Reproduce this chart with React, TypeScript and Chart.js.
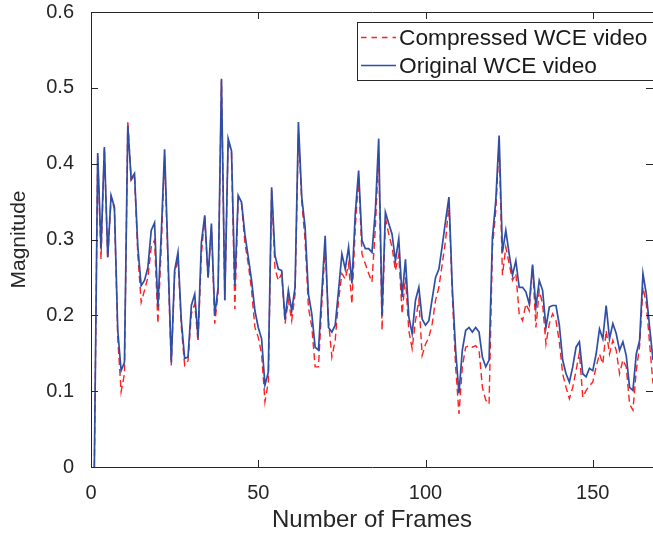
import React, { useEffect, useRef } from "react";
import { Chart, registerables } from "chart.js";

Chart.register(...registerables);

const frames: number[] = [];
for (let f = 1; f <= 168; f++) frames.push(f);

const original: number[] = [
  0, 0.414, 0.288, 0.422, 0.277, 0.358, 0.343, 0.18, 0.127, 0.138,
  0.45, 0.38, 0.387, 0.29, 0.239, 0.246, 0.263, 0.312, 0.322, 0.211,
  0.307, 0.419, 0.28, 0.138, 0.259, 0.283, 0.193, 0.143, 0.145, 0.213,
  0.228, 0.171, 0.296, 0.332, 0.25, 0.321, 0.2, 0.237, 0.512, 0.22,
  0.433, 0.417, 0.239, 0.358, 0.349, 0.307, 0.277, 0.246, 0.206, 0.184,
  0.169, 0.108, 0.125, 0.369, 0.279, 0.261, 0.259, 0.195, 0.233, 0.206,
  0.237, 0.455, 0.356, 0.316, 0.228, 0.202, 0.158, 0.154, 0.23, 0.305,
  0.184, 0.178, 0.187, 0.233, 0.281, 0.261, 0.29, 0.242, 0.334, 0.391,
  0.299, 0.288, 0.288, 0.283, 0.338, 0.433, 0.2, 0.336, 0.321, 0.307,
  0.272, 0.301, 0.224, 0.274, 0.198, 0.176, 0.22, 0.237, 0.195, 0.187,
  0.193, 0.222, 0.25, 0.261, 0.292, 0.325, 0.356, 0.237, 0.154, 0.097,
  0.154, 0.18, 0.184, 0.178, 0.184, 0.178, 0.145, 0.132, 0.141, 0.303,
  0.351, 0.437, 0.283, 0.312, 0.281, 0.253, 0.272, 0.237, 0.237, 0.231,
  0.215, 0.267, 0.211, 0.246, 0.233, 0.184, 0.211, 0.213, 0.213, 0.187,
  0.141, 0.123, 0.112, 0.132, 0.158, 0.165, 0.123, 0.119, 0.13, 0.127,
  0.149, 0.182, 0.169, 0.213, 0.169, 0.189, 0.176, 0.154, 0.165, 0.147,
  0.105, 0.101, 0.149, 0.167, 0.255, 0.228, 0.184, 0.141,
];

const compressed: number[] = [
  0, 0.41, 0.274, 0.42, 0.274, 0.355, 0.34, 0.17, 0.099, 0.123,
  0.457, 0.378, 0.385, 0.28, 0.217, 0.233, 0.25, 0.29, 0.299, 0.189,
  0.29, 0.41, 0.27, 0.134, 0.255, 0.275, 0.185, 0.134, 0.14, 0.202,
  0.215, 0.165, 0.281, 0.33, 0.248, 0.316, 0.189, 0.23, 0.51, 0.22,
  0.43, 0.415, 0.208, 0.355, 0.347, 0.296, 0.268, 0.233, 0.184, 0.171,
  0.149, 0.086, 0.112, 0.365, 0.261, 0.246, 0.255, 0.189, 0.22, 0.193,
  0.228, 0.439, 0.35, 0.299, 0.21, 0.185, 0.132, 0.132, 0.215, 0.29,
  0.193, 0.145, 0.167, 0.22, 0.255, 0.248, 0.268, 0.215, 0.316, 0.382,
  0.281, 0.268, 0.255, 0.244, 0.316, 0.413, 0.18, 0.329, 0.307, 0.29,
  0.259, 0.28, 0.202, 0.25, 0.18, 0.156, 0.193, 0.22, 0.147, 0.162,
  0.171, 0.189, 0.22, 0.237, 0.268, 0.299, 0.347, 0.228, 0.132, 0.07,
  0.132, 0.158, 0.16, 0.158, 0.16, 0.154, 0.105, 0.088, 0.083, 0.29,
  0.338, 0.426, 0.253, 0.29, 0.268, 0.246, 0.255, 0.202, 0.193, 0.215,
  0.206, 0.265, 0.184, 0.233, 0.215, 0.162, 0.189, 0.202, 0.193, 0.165,
  0.123, 0.105, 0.09, 0.105, 0.127, 0.151, 0.092, 0.101, 0.107, 0.112,
  0.132, 0.149, 0.136, 0.18, 0.149, 0.167, 0.154, 0.123, 0.141, 0.132,
  0.083, 0.075, 0.127, 0.16, 0.237, 0.215, 0.162, 0.11,
];

const xTicks: number[] = [0, 50, 100, 150];
const yTicks: number[] = [0, 0.1, 0.2, 0.3, 0.4, 0.5, 0.6];
const seriesLabels: string[] = ["Compressed WCE video", "Original WCE video"];

const FONT = "'Liberation Sans', Arial, Helvetica, sans-serif";
const AXIS = "#262626";
const RED = "#ff2020";
const BLUE = "#2f4ea6";
const seriesColors: string[] = [RED, BLUE];
const seriesDashes: number[][] = [[7, 4], []];

const boxPlugin = {
  id: "matlabBox",
  afterDatasetsDraw(chart: any) {
    const { ctx, chartArea } = chart;
    const { left, right, top, bottom } = chartArea;
    const xs = chart.scales.x;
    const ys = chart.scales.y;
    ctx.save();
    ctx.strokeStyle = AXIS;
    ctx.lineWidth = 1;
    ctx.setLineDash([]);
    ctx.beginPath();
    ctx.moveTo(left + 0.5, top + 0.5);
    ctx.lineTo(right + 0.5, top + 0.5);
    ctx.moveTo(left + 0.5, top);
    ctx.lineTo(left + 0.5, bottom + 0.5);
    ctx.lineTo(right + 0.5, bottom + 0.5);
    ctx.moveTo(right + 0.5, top);
    ctx.lineTo(right + 0.5, bottom);
    const tl = 7;
    xTicks.forEach((v) => {
      const px = Math.round(xs.getPixelForValue(v)) + 0.5;
      ctx.moveTo(px, bottom);
      ctx.lineTo(px, bottom - tl);
      ctx.moveTo(px, top);
      ctx.lineTo(px, top + tl);
    });
    yTicks.forEach((v) => {
      const py = Math.round(ys.getPixelForValue(v)) + 0.5;
      ctx.moveTo(left, py);
      ctx.lineTo(left + tl, py);
      ctx.moveTo(right, py);
      ctx.lineTo(right - tl, py);
    });
    ctx.stroke();
    ctx.restore();
  },
  afterDraw(chart: any) {
    const { ctx } = chart;
    const bx = 357.5;
    const by = 22.5;
    const bw = 300;
    const bh = 58;
    ctx.save();
    ctx.fillStyle = "#ffffff";
    ctx.fillRect(bx, by, bw, bh);
    ctx.strokeStyle = AXIS;
    ctx.lineWidth = 1;
    ctx.setLineDash([]);
    ctx.strokeRect(bx, by, bw, bh);
    const rows = [37.5, 65.5];
    seriesLabels.forEach((label, i) => {
      const y = rows[i];
      ctx.strokeStyle = seriesColors[i];
      ctx.lineWidth = 1.5;
      ctx.setLineDash(seriesDashes[i].length ? [5.5, 5] : []);
      ctx.beginPath();
      ctx.moveTo(361, y);
      ctx.lineTo(396, y);
      ctx.stroke();
      ctx.setLineDash([]);
      ctx.fillStyle = "#1a1a1a";
      ctx.font = `22.7px ${FONT}`;
      ctx.textBaseline = "middle";
      ctx.textAlign = "left";
      ctx.fillText(label, 399, y + 1);
    });
    ctx.restore();
  },
};

export default function App() {
  const ref = useRef<HTMLCanvasElement | null>(null);

  useEffect(() => {
    document.body.style.margin = "0";
    const canvas = ref.current;
    if (!canvas) return;
    const chart = new Chart(canvas, {
      type: "line",
      data: {
        datasets: [
          {
            label: seriesLabels[0],
            data: frames.map((f, i) => ({ x: f, y: compressed[i] })),
            borderColor: seriesColors[0],
            borderWidth: 1.4,
            borderDash: seriesDashes[0],
            pointRadius: 0,
            tension: 0,
            fill: false,
            order: 2,
          },
          {
            label: seriesLabels[1],
            data: frames.map((f, i) => ({ x: f, y: original[i] })),
            borderColor: seriesColors[1],
            borderWidth: 1.7,
            pointRadius: 0,
            tension: 0,
            fill: false,
            order: 1,
          },
        ],
      },
      options: {
        animation: false,
        responsive: false,
        devicePixelRatio: 1,
        layout: { padding: { top: 12, right: 0, left: 0, bottom: 0 } },
        plugins: {
          legend: { display: false },
          tooltip: { enabled: false },
        },
        scales: {
          x: {
            type: "linear",
            min: 0,
            max: 168,
            grid: { display: false },
            border: { display: false },
            afterBuildTicks: (s: any) => {
              s.ticks = xTicks.map((v) => ({ value: v }));
            },
            afterFit: (s: any) => {
              s.height = 70;
              s.paddingRight = 0;
              s.paddingLeft = 0;
            },
            ticks: {
              font: { family: FONT, size: 20 },
              color: AXIS,
              padding: 6,
              maxRotation: 0,
              autoSkip: false,
            },
            title: {
              display: true,
              text: "Number of Frames",
              font: { family: FONT, size: 24 },
              color: AXIS,
              padding: { top: 0, bottom: 2 },
            },
          },
          y: {
            type: "linear",
            min: 0,
            max: 0.6,
            grid: { display: false },
            border: { display: false },
            afterBuildTicks: (s: any) => {
              s.ticks = yTicks.map((v) => ({ value: v }));
            },
            afterFit: (s: any) => {
              s.width = 91;
              s.paddingTop = 0;
              s.paddingBottom = 0;
            },
            ticks: {
              font: { family: FONT, size: 20 },
              color: AXIS,
              padding: 9,
              callback: (v: any) => (Number(v) === 0 ? "0" : Number(v).toFixed(1)),
            },
            title: {
              display: true,
              text: "Magnitude",
              font: { family: FONT, size: 21 },
              color: AXIS,
              padding: { top: 7, bottom: 0 },
            },
          },
        },
      },
      plugins: [boxPlugin],
    });
    return () => chart.destroy();
  }, []);

  return (
    <div style={{ position: "fixed", left: 0, top: 0, width: 653, height: 537, background: "#fff" }}>
      <canvas ref={ref} width={653} height={537} style={{ display: "block", width: 653, height: 537 }} />
    </div>
  );
}
